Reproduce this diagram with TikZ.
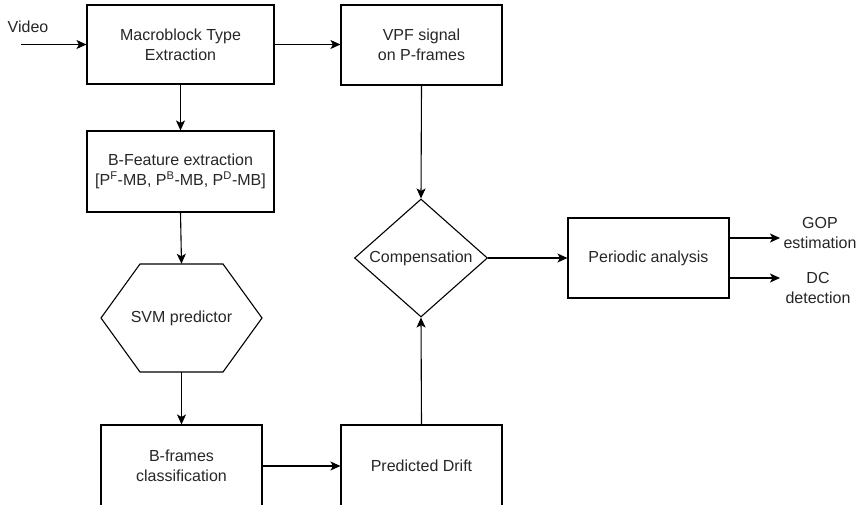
\documentclass[tikz,border=0pt]{standalone}
\usepackage{fontspec}
\setmainfont{Liberation Sans}
\usepackage{tikz}
\usetikzlibrary{arrows.meta,shapes.geometric}

\begin{document}
\begin{tikzpicture}[x=1pt,y=-1pt,
    every node/.style={font=\fontsize{16}{20}\selectfont, text=black!85},
    blk/.style={draw, line width=1.1pt, minimum width=161pt, minimum height=80pt, align=center, inner sep=0pt},
    flow/.style={line width=1.1pt, -{Stealth[length=10pt,width=9pt,inset=2.5pt]}}]
  \useasboundingbox (0,0) rectangle (862,505);
  \clip (0,0) rectangle (862,505);
  % Top row
  \node[blk, minimum width=187pt, minimum height=79pt] (mbte) at (180.5,44.5) {Macroblock Type\\Extraction};
  \node[blk] (vpf) at (421.5,45) {VPF signal\\on P-frames};
  % Left column
  \node[blk, minimum width=187pt, minimum height=81pt] (bfeat) at (180.5,171.5)
        {B-Feature extraction\\{}[P\textsuperscript{F}-MB, P\textsuperscript{B}-MB, P\textsuperscript{D}-MB]};
  \draw[line width=1.1pt] (101,318) -- (140,264) -- (223,264) -- (262,318) -- (223,372) -- (140,372) -- cycle;
  \node[minimum width=161pt, minimum height=108pt, inner sep=0pt] (svm) at (181.5,318) {SVM predictor};
  \node[blk, minimum height=82pt] (bclass) at (181.5,466) {B-frames\\classification};
  % Middle column
  \node[blk, minimum height=82pt] (drift) at (421.5,466) {Predicted Drift};
  \node[diamond, draw, line width=1.1pt, aspect=1.13, inner sep=0pt,
        minimum width=133pt, minimum height=118pt] (comp) at (421,258) {Compensation};
  % Right side
  \node[blk] (periodic) at (648.5,258) {Periodic analysis};
  \node[align=center] (gop) at (820,233) {GOP\\estimation};
  \node[align=center] (dc) at (818,287.5) {DC\\detection};
  \node (videolbl) at (28,27) {Video};
  \coordinate (vin) at (21,44.5);
  \coordinate (gopend) at (780,238);
  \coordinate (dcend) at (780,278);
  % Connectors
  \draw[flow] (vin) -- (mbte.west);
  \draw[flow] (mbte.east) -- (vpf.west |- mbte.east);
  \draw[flow] (mbte.south) -- (bfeat.north);
  \draw[flow] (bfeat.south) -- (svm.north);
  \draw[flow] (svm.south) -- (bclass.north);
  \draw[flow] (bclass.east) -- (drift.west);
  \draw[flow] (vpf.south) -- (comp.north);
  \draw[flow] (drift.north) -- (comp.south);
  \draw[flow] (comp.east) -- (periodic.west);
  \draw[flow] (periodic.east |- gopend) -- (gopend);
  \draw[flow] (periodic.east |- dcend) -- (dcend);
\end{tikzpicture}
\end{document}
